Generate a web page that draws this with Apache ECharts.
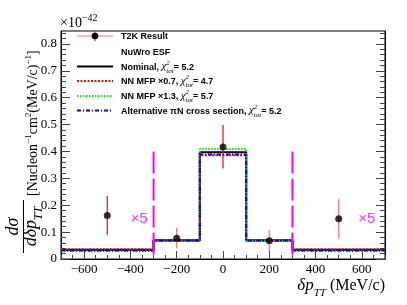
<!DOCTYPE html>
<html><head><meta charset="utf-8">
<script src="https://cdn.jsdelivr.net/npm/echarts@6/dist/echarts.min.js"></script>
<style>html,body{margin:0;padding:0;background:#fff}#c{width:407px;height:305px}</style>
</head><body><div id="c"></div>
<script>
// ---- data ----
const binEdges = [-700, -300, -100, 100, 300, 700];
const nominal  = [0.034, 0.069, 0.397, 0.069, 0.034];
const mfp07    = [0.036, 0.070, 0.386, 0.070, 0.036];
const mfp13    = [0.030, 0.068, 0.409, 0.068, 0.030];
const altPiN   = [0.032, 0.069, 0.389, 0.069, 0.032];
const dataX    = [-500, -200, 0, 200, 500];
const dataY    = [0.162, 0.077, 0.417, 0.068, 0.150];
const errLow   = [0.089, 0.040, 0.337, 0.031, 0.075];
const errHigh  = [0.234, 0.116, 0.498, 0.108, 0.224];
const cutPositions = [-300, 300];
const cutLineTop = 0.40;
const scaleNoteX = [-362, 621];
const scaleNoteY = [0.148, 0.148];
const scaleNoteText = '×5';
const xTickValues = [-600, -400, -200, 0, 200, 400, 600];
const yTickValues = [0, 0.1, 0.2, 0.3, 0.4, 0.5, 0.6, 0.7, 0.8];
const xRange = [-700, 700];
const yRange = [0, 0.848];
const legendLabels = ['T2K Result', 'NuWro ESF', 'Nominal, ', 'NN MFP \u00d70.7, ', 'NN MFP \u00d71.3, ', 'Alternative \u03c0N cross section, '];
const legendChi2 = [null, null, '5.2', '4.7', '5.7', '5.2'];

// ---- styles ----
const SERIF = '"Liberation Serif","Times New Roman",serif';
const SANS = '"Liberation Sans",Arial,sans-serif';
const errColors = ['#e82020', '#f27a7a', '#e82020', '#f27a7a', '#f27a7a'];
const histStyles = [
  {name: 'Nominal', vals: nominal, color: '#000000', width: 2.2, type: 'solid'},
  {name: 'NN MFP x0.7', vals: mfp07, color: '#ff0000', width: 2, type: [2, 1.5]},
  {name: 'NN MFP x1.3', vals: mfp13, color: '#00ee00', width: 2, type: [1.5, 1.5]},
  {name: 'Alt piN', vals: altPiN, color: '#0000ff', width: 2, type: [4, 2, 1, 2]}
];

const meas = document.createElement('canvas').getContext('2d');
function fontStr(size, fam, o) { return (o.italic ? 'italic ' : '') + (o.bold ? 'bold ' : '') + size + 'px ' + fam; }
function tw(t, f) { meas.font = f; return meas.measureText(t).width; }
function textAt(x, baseline, t, size, fam, o) {
  o = o || {};
  return {type: 'text', z: 100, style: {text: t, x: x, y: baseline - 0.3 * size, font: fontStr(size, fam, o),
    fill: o.color || '#000', textAlign: 'left', textVerticalAlign: 'middle'}};
}
function runs(x, baseline, pieces, out) {
  for (const p of pieces) {
    const t = p[0], size = p[1], fam = p[2], o = p[3] || {}, dy = p[4] || 0, adv = p[5];
    out.push(textAt(x, baseline + dy, t, size, fam, o));
    x += (adv !== undefined ? adv : tw(t, fontStr(size, fam, o)));
  }
  return x;
}

function stepData(vals) {
  const d = vals.map((v, i) => [binEdges[i], v]);
  d.push([binEdges[binEdges.length - 1], vals[vals.length - 1]]);
  return d;
}
function range(a, b, s) { const r = []; for (let v = a; v <= b + 1e-9; v += s) r.push(Math.round(v * 1000) / 1000); return r; }

// ---- graphics (legend, titles) ----
const g = [];
const legX1 = 77, legX2 = 113, legTextX = 121;
const rowY = [36, 51.5, 66.5, 81, 96, 110.5];
g.push({type: 'line', z: 100, shape: {x1: legX1, y1: rowY[0], x2: legX2, y2: rowY[0]}, style: {stroke: '#f27a7a', lineWidth: 1.2}});
g.push({type: 'line', z: 100, shape: {x1: 95, y1: rowY[0] - 5, x2: 95, y2: rowY[0] + 5}, style: {stroke: '#e82020', lineWidth: 1.2}});
g.push({type: 'circle', z: 101, shape: {cx: 95, cy: rowY[0], r: 3.3}, style: {fill: '#000'}});
for (let i = 2; i < 6; i++) {
  const h = histStyles[i - 2];
  g.push({type: 'line', z: 100, shape: {x1: legX1, y1: rowY[i], x2: legX2, y2: rowY[i]},
    style: {stroke: h.color, lineWidth: h.width, lineDash: h.type === 'solid' ? null : h.type}});
}
for (let i = 0; i < 6; i++) {
  const base = rowY[i] + 3.3;
  const pieces = [[legendLabels[i], 9, SANS, {bold: true}]];
  if (legendChi2[i]) {
    pieces.push(['\u03c7', 11, SERIF, {italic: true}]);
    const wTot = tw('tot', fontStr(7, SERIF, {italic: true}));
    pieces.push(['2', 7, SERIF, {italic: true}, -5, 0]);
    pieces.push(['tot', 7, SERIF, {italic: true}, 3, wTot]);
    pieces.push(['= ' + legendChi2[i], 9, SANS, {bold: true}]);
  }
  runs(legTextX, base, pieces, g);
}
runs(60, 28, [['\u00d710', 14, SERIF, {}], ['\u221242', 10, SERIF, {}, -7]], g);
(function () {
  const p = [['\u03b4p', 17, SERIF, {italic: true}], ['TT', 11, SERIF, {italic: true}, 5], [' (MeV/c)', 16, SERIF, {}]];
  let w = 0; p.forEach(q => w += tw(q[0], fontStr(q[1], q[2], q[3])));
  runs(385 - w, 291, p, g);
})();
(function () {
  const ch = [];
  ch.push({type: 'line', shape: {x1: -253, y1: 23.5, x2: -200, y2: 23.5}, style: {stroke: '#000', lineWidth: 1}});
  const numW = tw('d\u03c3', fontStr(18, SERIF, {italic: true}));
  runs(-226.5 - numW / 2, 19, [['d\u03c3', 18, SERIF, {italic: true}]], ch);
  const den = [['d\u03b4p', 18, SERIF, {italic: true}], ['TT', 12, SERIF, {italic: true}, 5]];
  let dw = 0; den.forEach(q => dw += tw(q[0], fontStr(q[1], q[2], q[3])));
  runs(-226.5 - dw / 2, 37, den, ch);
  runs(-196, 37.5, [['[Nucleon', 14, SERIF, {}], ['\u22121', 9, SERIF, {}, -6], ['cm', 14, SERIF, {}],
    ['2', 9, SERIF, {}, -6], ['(MeV/c)', 14, SERIF, {}], ['\u22121', 9, SERIF, {}, -6], [']', 14, SERIF, {}]], ch);
  g.push({type: 'group', x: 0, y: 0, rotation: Math.PI / 2, children: ch});
})();

// ---- axes ----
const tickColor = '#444';
function xAxisMajor() {
  return {type: 'value', min: xRange[0], max: xRange[1], position: 'bottom',
    axisLine: {show: true, onZero: false, lineStyle: {color: '#000', width: 1}},
    axisTick: {show: true, inside: true, length: 8, customValues: xTickValues, lineStyle: {color: tickColor}},
    splitLine: {show: false},
    axisLabel: {show: true, margin: 4, customValues: xTickValues, fontFamily: SERIF, fontSize: 13, color: '#000',
      formatter: v => String(v).replace('-', '\u2212')}};
}
function xAxisMinor() {
  return {type: 'value', min: xRange[0], max: xRange[1], position: 'bottom',
    axisLine: {show: false, onZero: false},
    axisTick: {show: true, inside: true, length: 4, customValues: range(xRange[0], xRange[1], 50), lineStyle: {color: tickColor}},
    splitLine: {show: false}, axisLabel: {show: false}};
}
function yAxisMajor(pos, labels) {
  return {type: 'value', min: yRange[0], max: yRange[1], position: pos,
    axisLine: {show: true, onZero: false, lineStyle: {color: '#000', width: 1}},
    axisTick: {show: true, inside: true, length: 9, customValues: yTickValues, lineStyle: {color: tickColor}},
    splitLine: {show: false},
    axisLabel: {show: labels, margin: 4, customValues: yTickValues, fontFamily: SERIF, fontSize: 13, color: '#000',
      formatter: v => v === 0 ? '0' : v.toFixed(1)}};
}
function yAxisMinor(pos) {
  return {type: 'value', min: yRange[0], max: yRange[1], position: pos,
    axisLine: {show: false, onZero: false},
    axisTick: {show: true, inside: true, length: 5, customValues: range(0, 0.84, 0.02), lineStyle: {color: tickColor}},
    splitLine: {show: false}, axisLabel: {show: false}};
}

// ---- series ----
const series = [];
histStyles.forEach(h => {
  series.push({type: 'line', name: h.name, step: 'end', data: stepData(h.vals), symbol: 'none', z: 3,
    lineStyle: {color: h.color, width: h.width, type: h.type}, silent: true});
});
series.push({type: 'custom', name: 'cuts', z: 4, data: cutPositions.map(x => [x, 0, cutLineTop]),
  renderItem: (params, api) => {
    const a = api.coord([api.value(0), api.value(1)]), b = api.coord([api.value(0), api.value(2)]);
    return {type: 'line', shape: {x1: a[0], y1: b[1], x2: b[0], y2: a[1]}, style: {stroke: '#ff00ff', lineWidth: 2, lineDash: [22, 5]}};
  }});
series.push({type: 'custom', name: 'errors', z: 5, data: dataX.map((x, i) => [x, errLow[i], errHigh[i]]),
  renderItem: (params, api) => {
    const a = api.coord([api.value(0), api.value(1)]), b = api.coord([api.value(0), api.value(2)]);
    return {type: 'line', shape: {x1: a[0], y1: a[1], x2: b[0], y2: b[1]},
      style: {stroke: errColors[params.dataIndex], lineWidth: 1.3}};
  }});
series.push({type: 'scatter', name: 'T2K Result', z: 6, data: dataX.map((x, i) => [x, dataY[i]]),
  symbol: 'circle', symbolSize: 7, itemStyle: {color: '#000'}});
series.push({type: 'scatter', name: 'scale', z: 6, data: scaleNoteX.map((x, i) => [x, scaleNoteY[i]]),
  symbolSize: 0, label: {show: true, position: 'inside', formatter: scaleNoteText, fontFamily: SANS, fontSize: 15, color: '#ff00ff'}});

const chart = echarts.init(document.getElementById('c'), null, {renderer: 'canvas'});
chart.setOption({
  animation: false,
  backgroundColor: '#fff',
  grid: {left: 61, right: 22, top: 31, bottom: 46, show: true, borderColor: '#000', borderWidth: 1, backgroundColor: 'transparent'},
  xAxis: [xAxisMajor(), xAxisMinor()],
  yAxis: [yAxisMajor('left', true), yAxisMinor('left'), yAxisMajor('right', false), yAxisMinor('right')],
  series: series,
  graphic: g
});
</script></body></html>
